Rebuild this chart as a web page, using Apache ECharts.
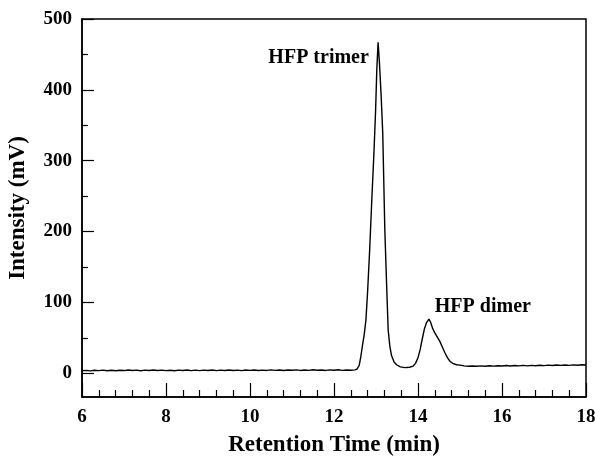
<!DOCTYPE html>
<html>
<head>
<meta charset="utf-8">
<script src="https://cdn.jsdelivr.net/npm/echarts@6/dist/echarts.min.js"></script>
<style>
html, body { margin: 0; padding: 0; background: #fff; }
#chart { width: 595px; height: 465px; }
</style>
</head>
<body>
<div id="chart"></div>
<script>
// retention time (min) and detector signal (mV)
const times = [
  6.0, 6.1, 6.2, 6.3, 6.4, 6.5, 6.6, 6.7, 6.8, 6.9,
  7.0, 7.1, 7.2, 7.3, 7.4, 7.5, 7.6, 7.7, 7.8, 7.9,
  8.0, 8.1, 8.2, 8.3, 8.4, 8.5, 8.6, 8.7, 8.8, 8.9,
  9.0, 9.1, 9.2, 9.3, 9.4, 9.5, 9.6, 9.7, 9.8, 9.9,
  10.0, 10.1, 10.2, 10.3, 10.4, 10.5, 10.6, 10.7, 10.8, 10.9,
  11.0, 11.1, 11.2, 11.3, 11.4, 11.5, 11.6, 11.7, 11.8, 11.9,
  12.0, 12.1, 12.2, 12.3, 12.4, 12.5,
  12.55, 12.6, 12.64, 12.68, 12.72, 12.76, 12.8, 12.85, 12.9, 12.95,
  12.99, 13.02, 13.05, 13.08, 13.12, 13.16, 13.21, 13.25, 13.29, 13.33,
  13.37, 13.43, 13.49, 13.58, 13.69, 13.8, 13.88, 13.94, 14.0, 14.05,
  14.1, 14.15, 14.2, 14.26, 14.3, 14.35, 14.4, 14.46, 14.52, 14.58,
  14.64, 14.7, 14.76, 14.84, 14.92, 15.0, 15.1, 15.2,
  15.3, 15.4, 15.5, 15.6, 15.7, 15.8, 15.9, 16.0, 16.1, 16.2,
  16.3, 16.4, 16.5, 16.6, 16.7, 16.8, 16.9, 17.0, 17.1, 17.2,
  17.3, 17.4, 17.5, 17.6, 17.7, 17.8, 17.9, 18.0
];
const intensity = [
  3.5, 4.1, 3.4, 4.3, 3.7, 4.4, 3.6, 4.2, 3.5, 4.3,
  3.8, 4.6, 3.9, 4.4, 3.6, 4.5, 3.9, 4.7, 4.0, 4.4,
  3.7, 4.3, 3.6, 4.5, 3.9, 4.6, 3.8, 4.4, 3.7, 4.5,
  4.0, 4.6, 3.8, 4.4, 3.9, 4.7, 4.0, 4.5, 3.8, 4.6,
  4.1, 4.7, 3.9, 4.5, 4.0, 4.8, 4.1, 4.6, 3.9, 4.7,
  4.2, 4.8, 4.0, 4.6, 4.1, 4.9, 4.2, 4.7, 4.0, 4.8,
  4.3, 4.9, 4.1, 4.7, 4.2, 4.8,
  6, 11, 24, 40, 55, 75, 115, 175, 245, 310,
  370, 430, 467, 440, 395, 340, 203, 130, 61, 38,
  25, 16, 12, 9, 8, 8.5, 10, 14, 22, 33,
  48, 62, 71, 76.5, 72, 63, 57, 51, 45, 37,
  29, 22, 17, 13.5, 12, 11.5, 10.5, 10.0,
  10.3, 9.8, 10.4, 10.0, 10.6, 10.1, 10.7, 10.2, 10.9, 10.3,
  11.0, 10.4, 11.1, 10.5, 11.2, 10.7, 11.3, 10.8, 11.5, 11.0,
  11.6, 11.1, 11.7, 11.2, 11.8, 11.4, 12.0, 11.6
];
const yMajorTicks = [0, 100, 200, 300, 400, 500];
const yMinorTicks = [50, 150, 250, 350, 450];
const peakNames = ['HFP trimer', 'HFP dimer'];

const font = 'Liberation Serif';
let pts = [];
for (let i = 0; i < times.length; i++) {
  pts.push([times[i], intensity[i]]);
}

const myChart = echarts.init(document.getElementById('chart'), null, { renderer: 'canvas' });
const option = {
  animation: false,
  backgroundColor: '#fff',
  grid: {
    left: 82, right: 9, top: 19, bottom: 68,
    outerBoundsMode: 'none',
    containLabel: false,
    show: true, borderColor: '#000', borderWidth: 1.5
  },
  xAxis: {
    type: 'value',
    min: 6, max: 18, interval: 2,
    name: 'Retention Time (min)',
    nameLocation: 'middle',
    nameGap: 37,
    nameTextStyle: { fontFamily: font, fontWeight: 'bold', fontSize: 23, color: '#000' },
    axisLine: { onZero: false, lineStyle: { color: '#000', width: 1.5 } },
    axisTick: { inside: true, length: 14, lineStyle: { color: '#000', width: 1.2 } },
    minorTick: { show: true, splitNumber: 5, length: 7, lineStyle: { color: '#000', width: 1.2 } },
    axisLabel: { fontFamily: font, fontWeight: 'bold', fontSize: 19, color: '#000', margin: 11 },
    splitLine: { show: false },
    minorSplitLine: { show: false }
  },
  yAxis: [{
    type: 'value',
    min: -33.5, max: 500,
    name: 'Intensity (mV)',
    nameLocation: 'middle',
    nameGap: 52,
    nameTextStyle: { fontFamily: font, fontWeight: 'bold', fontSize: 23, color: '#000' },
    axisLine: { show: true, onZero: false, lineStyle: { color: '#000', width: 1.5 } },
    axisTick: { show: true, inside: true, length: 12, customValues: yMajorTicks, lineStyle: { color: '#000', width: 1.2 } },
    axisLabel: { customValues: yMajorTicks, fontFamily: font, fontWeight: 'bold', fontSize: 19, color: '#000', margin: 10 },
    splitLine: { show: false }
  }, {
    // second axis only for the short ticks at 50, 150, ...
    type: 'value',
    position: 'left',
    min: -33.5, max: 500,
    axisLine: { show: false, onZero: false },
    axisTick: { show: true, inside: true, length: 6, customValues: yMinorTicks, lineStyle: { color: '#000', width: 1.2 } },
    axisLabel: { show: false },
    splitLine: { show: false }
  }],
  series: [{
    type: 'line',
    data: pts,
    showSymbol: false,
    lineStyle: { color: '#000', width: 1.4 },
    markPoint: {
      symbol: 'circle',
      symbolSize: 0,
      label: { show: true, fontFamily: font, fontWeight: 'bold', fontSize: 20, color: '#000', distance: 0 },
      data: [
        { coord: [12.83, 445.6], value: peakNames[0], label: { position: 'left', formatter: peakNames[0] } },
        { coord: [14.40, 94.4], value: peakNames[1], label: { position: 'right', formatter: peakNames[1] } }
      ]
    }
  }]
};
myChart.setOption(option);
</script>
</body>
</html>
